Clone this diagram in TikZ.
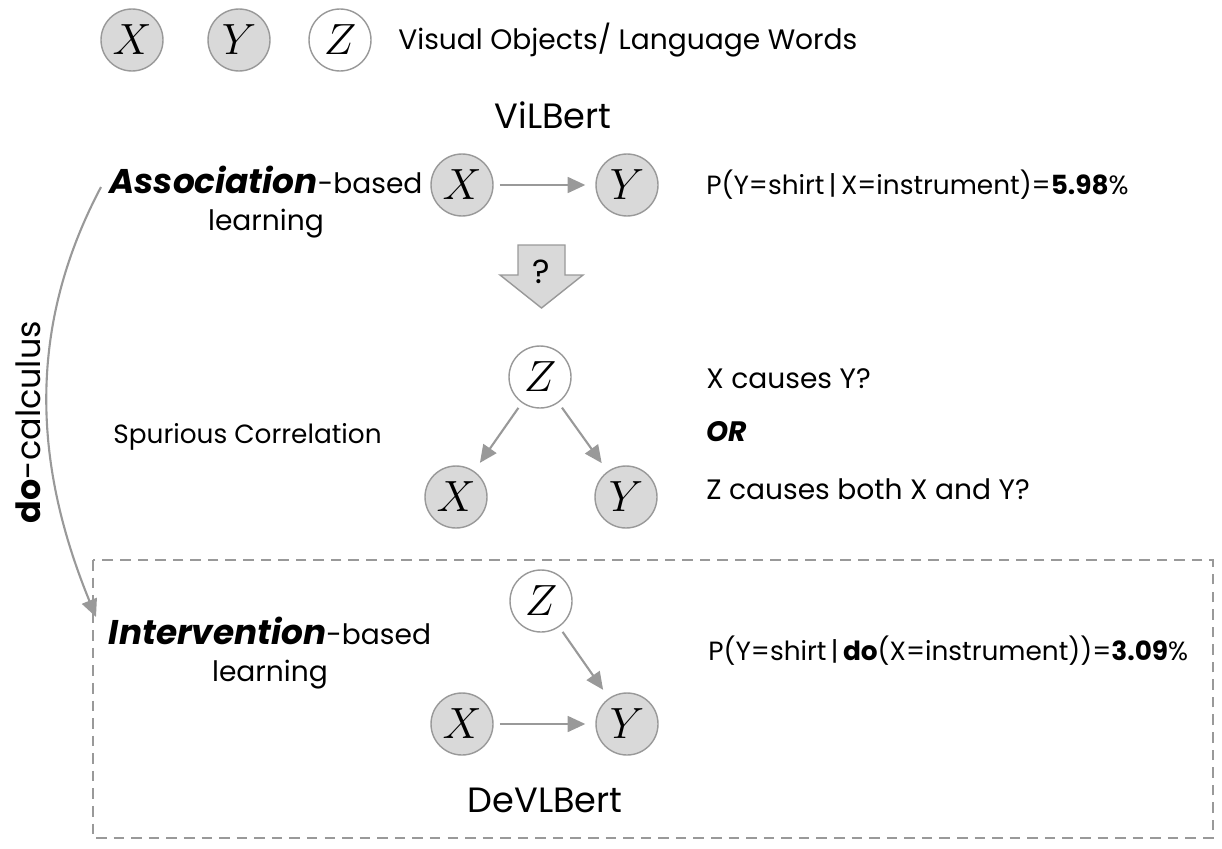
\documentclass[tikz,border=0pt]{standalone}
\usepackage{fontspec}
\setmainfont{Poppins}
\usetikzlibrary{positioning,arrows.meta}

\tikzset{
    obs/.style={circle, draw=black!40, line width=0.8pt, fill=black!15, minimum size=1.24cm, inner sep=0pt, font=\fontsize{24}{24}\selectfont},
    lat/.style={obs, fill=white},
    arr/.style={draw=black!40, line width=1.2pt, -{Triangle[length=10pt,width=9pt]}, shorten <=0.12cm, shorten >=0.2cm},
    txt/.style={font=\fontsize{16}{21}\selectfont, inner sep=0pt},
    prob/.style={txt, font=\fontsize{15}{18}\selectfont},
}

\begin{document}
\begin{tikzpicture}[x=0.02cm,y=-0.02cm]
    \useasboundingbox (0,0) rectangle (1222,848);

    % legend
    \node[obs] (lx) at (132,40) {$X$};
    \node[obs] (ly) at (239,40) {$Y$};
    \node[lat] (lz) at (340,40) {$Z$};
    \node[txt, anchor=west] (leg) at (398,40) {Visual Objects/ Language Words};

    % association
    \node[txt, font=\fontsize{20}{24}\selectfont] (vil) at (553,115) {ViLBert};
    \node[txt, align=center] (assoc) at (266,202) {{\fontsize{19.5}{24}\selectfont\textbf{\textit{Association}}}-based\\learning};
    \node[obs] (x1) at (462,185) {$X$};
    \node[obs] (y1) at (627,185) {$Y$};
    \draw[arr] (x1) -- (y1);
    \node[prob, anchor=west] (p1) at (706,185) {P(Y=shirt\,|\,X=instrument)=\textbf{5.98}\%};

    % question arrow
    \draw[draw=black!40, fill=black!15, line width=0.8pt] (518,245) -- (565,245) -- (565,275) -- (583,275) -- (541.5,308) -- (500,275) -- (518,275) -- cycle;
    \node[txt, font=\fontsize{19}{20}\selectfont] (q) at (541.5,272) {?};

    % spurious correlation
    \node[lat] (z2) at (540,377) {$Z$};
    \node[obs] (x2) at (456,497) {$X$};
    \node[obs] (y2) at (626,497) {$Y$};
    \draw[arr] (z2) -- (x2);
    \draw[arr] (z2) -- (y2);
    \node[txt, font=\fontsize{15}{18}\selectfont, anchor=west] (spur) at (113,437) {Spurious Correlation};
    \node[txt, anchor=west] (c1) at (706,379) {X causes Y?};
    \node[txt, anchor=west] (or) at (706,432) {\textbf{\textit{OR}}};
    \node[txt, anchor=west] (c2) at (706,489) {Z causes both X and Y?};

    % intervention
    \draw[black!40, line width=0.8pt, dash pattern=on 6pt off 4pt] (93,560) rectangle (1213,838);
    \node[txt, align=center] (interv) at (270,653) {{\fontsize{19.5}{24}\selectfont\textbf{\textit{Intervention}}}-based\\learning};
    \node[lat] (z3) at (541,601) {$Z$};
    \node[obs] (x3) at (462,724) {$X$};
    \node[obs] (y3) at (627,724) {$Y$};
    \draw[arr] (z3) -- (y3);
    \draw[arr] (x3) -- (y3);
    \node[prob, anchor=west] (p2) at (708,651) {P(Y=shirt\,|\,\textbf{do}(X=instrument))=\textbf{3.09}\%};
    \node[txt, font=\fontsize{20}{24}\selectfont] (dev) at (545,800) {DeVLBert};

    % do-calculus
    \coordinate (s) at (101,187);
    \coordinate (e) at (96,617);
    \draw[draw=black!40, line width=1.2pt, -{Triangle[length=10pt,width=9pt]}] (s) .. controls (20,340) and (40,480) .. (e);
    \node[txt, font=\fontsize{19}{22}\selectfont, rotate=90] (do) at (28,422) {\textbf{do}-calculus};
\end{tikzpicture}
\end{document}
